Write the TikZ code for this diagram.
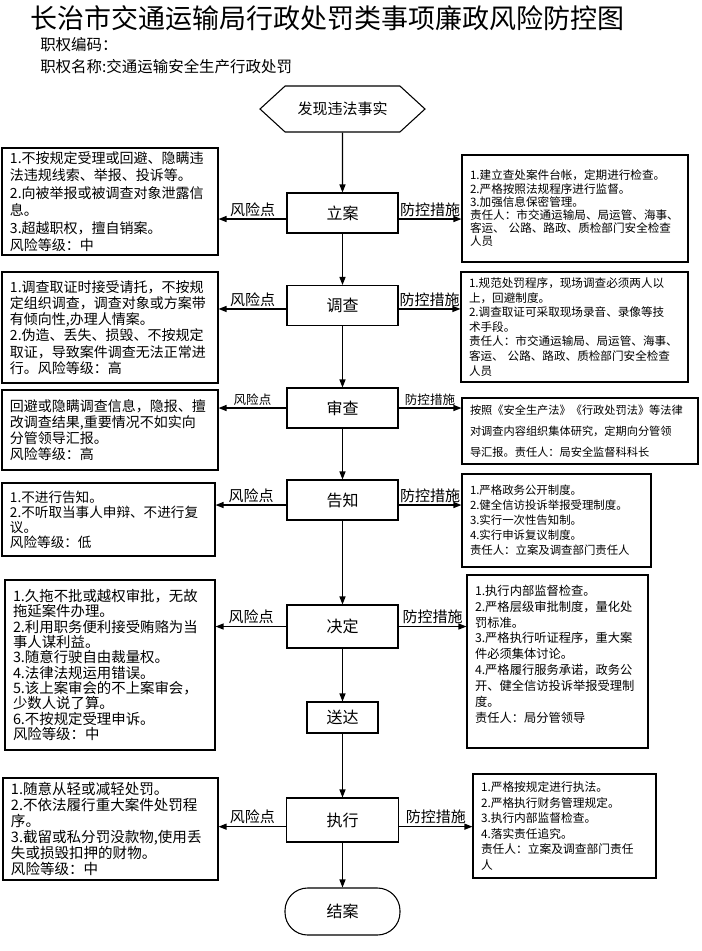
\documentclass[tikz,border=0pt]{standalone}
\usepackage{fontspec}
\setmainfont{Noto Sans CJK SC}
\usetikzlibrary{arrows.meta,shapes.symbols}

\newcommand{\fsz}[2]{\fontsize{#1}{#2}\selectfont}

\begin{document}
\begin{tikzpicture}[
        x=0.75pt, y=-0.75pt,
        stagebox/.style={draw=black, line width=0.8pt, minimum width=83.25pt, minimum height=30pt, inner sep=2pt, font=\fsz{12}{14}},
        hexbox/.style={draw=black, line width=0.8pt, signal, signal to=east and west, signal pointer angle=85, minimum width=123.75pt, minimum height=34.5pt, inner sep=2pt, font=\fsz{11.25}{13}},
        endbox/.style={draw=black, line width=0.8pt, rounded corners=17pt, minimum width=86.25pt, minimum height=35.25pt, font=\fsz{12}{14}},
        riskbox/.style={draw=black, line width=0.8pt, align=left, inner xsep=6pt, inner ysep=2pt},
        ctrlbox/.style={draw=black, line width=0.8pt, align=left, inner xsep=6pt, inner ysep=2pt},
        flow/.style={draw=black, line width=0.9pt, -{Triangle[length=6pt,width=4.5pt]}},
        edgetag/.style={above, inner sep=1.5pt, font=\fsz{11.25}{13}}
    ]
        \useasboundingbox (0,0) rectangle (701,951);

        \node[font=\fsz{20.25}{24}] (title) at (327.5,18) {长治市交通运输局行政处罚类事项廉政风险防控图};
        \node[anchor=west, inner sep=0pt, font=\fsz{11.6}{14}] (code) at (40,45) {职权编码：};
        \node[anchor=west, inner sep=0pt, font=\fsz{11.6}{14}] (power) at (40,67) {职权名称:交通运输安全生产行政处罚};

        \node[hexbox] (found) at (342.5,109) {发现违法事实};
        \node[stagebox] (lian) at (342.5,213) {立案};
        \node[stagebox] (diaocha) at (342.5,305.5) {调查};
        \node[stagebox] (shencha) at (342.5,408) {审查};
        \node[stagebox] (gaozhi) at (342.5,500) {告知};
        \node[stagebox, minimum height=32.25pt] (jueding) at (342.5,626.5) {决定};
        \node[stagebox, minimum width=53.25pt, minimum height=23.25pt] (songda) at (342.5,717.5) {送达};
        \node[stagebox, minimum width=84pt, minimum height=33pt] (zhixing) at (342.5,820) {执行};
        \node[endbox] (jiean) at (342.5,911.5) {结案};

        \node[riskbox, text width=150pt, minimum height=80.25pt, font=\fsz{10.5}{13.1}] (risk1) at (110,201.5) {1.不按规定受理或回避、隐瞒违\\法违规线索、举报、投诉等。\\2.向被举报或被调查对象泄露信\\息。\\3.超越职权，擅自销案。\\风险等级：中};
        \node[ctrlbox, text width=157.5pt, minimum height=80.25pt, font=\fsz{8.7}{9.9}] (ctrl1) at (575,208.5) {1.建立查处案件台帐，定期进行检查。\\2.严格按照法规程序进行监督。\\3.加强信息保密管理。\\责任人：市交通运输局、局运管、海事、\\客运、 公路、路政、质检部门安全检查\\人员};

        \node[riskbox, text width=150pt, minimum height=83.25pt, font=\fsz{10.5}{12.2}] (risk2) at (110,327.5) {1.调查取证时接受请托，不按规\\定组织调查，调查对象或方案带\\有倾向性,办理人情案。\\2.伪造、丢失、损毁、不按规定\\取证，导致案件调查无法正常进\\行。风险等级：高};
        \node[ctrlbox, text width=158.25pt, minimum height=82.5pt, font=\fsz{8.7}{10.9}] (ctrl2) at (574.5,327) {1.规范处罚程序，现场调查必须两人以\\上，回避制度。\\2.调查取证可采取现场录音、录像等技\\术手段。\\责任人：市交通运输局、局运管、海事、\\客运、 公路、路政、质检部门安全检查\\人员};

        \node[riskbox, text width=150pt, minimum height=60pt, font=\fsz{10.5}{12}] (risk3) at (110,430) {回避或隐瞒调查信息，隐报、擅\\改调查结果,重要情况不如实向\\分管领导汇报。\\风险等级：高};
        \node[ctrlbox, text width=165pt, minimum height=49.5pt, font=\fsz{8.4}{15.75}] (ctrl3) at (580,431) {按照《安全生产法》《行政处罚法》等法律\\对调查内容组织集体研究，定期向分管领\\导汇报。责任人：局安全监督科科长};

        \node[riskbox, text width=147.75pt, minimum height=54.75pt, font=\fsz{10.2}{11.25}] (risk4) at (108.5,519.5) {1.不进行告知。\\2.不听取当事人申辩、不进行复\\议。\\风险等级：低};
        \node[ctrlbox, text width=129.75pt, minimum height=69.75pt, font=\fsz{8.55}{11.25}] (ctrl4) at (556.5,520.5) {1.严格政务公开制度。\\2.健全信访投诉举报受理制度。\\3.实行一次性告知制。\\4.实行申诉复议制度。\\责任人：立案及调查部门责任人};

        \node[riskbox, text width=145.5pt, minimum height=127.5pt, font=\fsz{10.8}{11.5}] (risk5) at (110,665) {1.久拖不批或越权审批，无故\\拖延案件办理。\\2.利用职务便利接受贿赂为当\\事人谋利益。\\3.随意行驶自由裁量权。\\4.法律法规运用错误。\\5.该上案审会的不上案审会，\\少数人说了算。\\6.不按规定受理申诉。\\风险等级：中};
        \node[ctrlbox, text width=123.75pt, minimum height=129.75pt, font=\fsz{9.2}{11.9}] (ctrl5) at (557.5,661.5) {1.执行内部监督检查。\\2.严格层级审批制度，量化处\\罚标准。\\3.严格执行听证程序，重大案\\件必须集体讨论。\\4.严格履行服务承诺，政务公\\开、健全信访投诉举报受理制\\度。\\责任人：局分管领导\\\mbox{}};

        \node[riskbox, text width=149.25pt, minimum height=76.5pt, font=\fsz{10.9}{12}] (risk6) at (110.5,829) {1.随意从轻或减轻处罚。\\2.不依法履行重大案件处罚程\\序。\\3.截留或私分罚没款物,使用丢\\失或损毁扣押的财物。\\风险等级：中};
        \node[ctrlbox, text width=125.25pt, minimum height=78pt, font=\fsz{8.8}{11.7}] (ctrl6) at (564.5,826) {1.严格按规定进行执法。\\2.严格执行财务管理规定。\\3.执行内部监督检查。\\4.落实责任追究。\\责任人：立案及调查部门责任\\人};

        \draw[flow] (found) -- (lian);
        \draw[flow] (lian) -- (diaocha);
        \draw[flow] (diaocha) -- (shencha);
        \draw[flow] (shencha) -- (gaozhi);
        \draw[flow] (gaozhi) -- (jueding);
        \draw[flow] (jueding) -- (songda);
        \draw[flow] (songda) -- (zhixing);
        \draw[flow] (zhixing) -- (jiean);

        \draw[flow] ([yshift=-4.5pt]lian.west) -- ([yshift=-4.5pt]lian.west -| risk1.east) node[edgetag, midway] (tagr1) {风险点};
        \draw[flow] ([yshift=-4.5pt]lian.east) -- ([yshift=-4.5pt]lian.east -| ctrl1.west) node[edgetag, midway] (tagc1) {防控措施};
        \draw[flow] ([yshift=-2.6pt]diaocha.west) -- ([yshift=-2.6pt]diaocha.west -| risk2.east) node[edgetag, midway] (tagr2) {风险点};
        \draw[flow] ([yshift=-2.6pt]diaocha.east) -- ([yshift=-2.6pt]diaocha.east -| ctrl2.west) node[edgetag, midway] (tagc2) {防控措施};
        \draw[flow] (shencha.west) -- (shencha.west -| risk3.east) node[edgetag, midway, font=\fsz{9.4}{11}] (tagr3) {风险点};
        \draw[flow] (shencha.east) -- (shencha.east -| ctrl3.west) node[edgetag, midway, font=\fsz{9.4}{11}] (tagc3) {防控措施};
        \draw[flow] ([yshift=-3.75pt]gaozhi.west) -- ([yshift=-3.75pt]gaozhi.west -| risk4.east) node[edgetag, midway] (tagr4) {风险点};
        \draw[flow] ([yshift=-3.75pt]gaozhi.east) -- ([yshift=-3.75pt]gaozhi.east -| ctrl4.west) node[edgetag, midway] (tagc4) {防控措施};
        \draw[flow] (jueding.west) -- (jueding.west -| risk5.east) node[edgetag, midway] (tagr5) {风险点};
        \draw[flow] (jueding.east) -- (jueding.east -| ctrl5.west) node[edgetag, midway] (tagc5) {防控措施};
        \draw[flow] ([yshift=-5pt]zhixing.west) -- ([yshift=-5pt]zhixing.west -| risk6.east) node[edgetag, midway] (tagr6) {风险点};
        \draw[flow] ([yshift=-5pt]zhixing.east) -- ([yshift=-5pt]zhixing.east -| ctrl6.west) node[edgetag, midway] (tagc6) {防控措施};
    \end{tikzpicture}
\end{document}
